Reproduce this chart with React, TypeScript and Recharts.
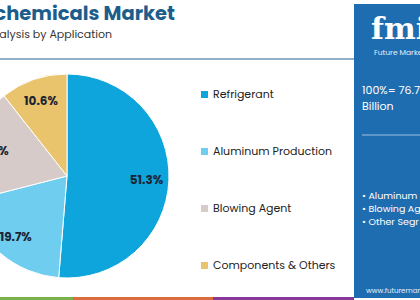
import React from "react";
import { PieChart, Pie, Cell } from "recharts";

const categories = ["Refrigerant", "Aluminum Production", "Blowing Agent", "Components & Others"];
const shares = [51.3, 19.7, 18.4, 10.6];
const colors = ["#0ea5dd", "#6fcdf0", "#d6cbc8", "#e9c46c"];
const titleText = "chemicals Market";
const subtitleText = "alysis by Application";
const panelTotal = ["100%= 76.7", "Billion"];
const panelBullets = ["• Aluminum", "• Blowing Ag", "• Other Segr"];

const data = categories.map((name, i) => ({ name, value: shares[i] }));
const RAD = Math.PI / 180;
const FONT = "Poppins, Inter, sans-serif";

const renderLabel = (props: any) => {
  const { cx, cy, midAngle, outerRadius, value } = props;
  const r = outerRadius * 0.78;
  const x = cx + r * Math.cos(-midAngle * RAD);
  const y = cy + r * Math.sin(-midAngle * RAD);
  return (
    <text x={x} y={y} textAnchor="middle" dominantBaseline="central" fill="#1b2533"
      fontSize={12} fontWeight={700} fontFamily={FONT}>
      {value.toFixed(1)}%
    </text>
  );
};

export default function App() {
  return (
    <div style={{ position: "absolute", left: 0, top: 0, width: 420, height: 300, background: "#fff", overflow: "hidden" }}>
      <svg width={420} height={300} style={{ position: "absolute", left: 0, top: 0 }}>
        <text x={175} y={20} textAnchor="end" fill="#1c5d8c" fontSize={19.5} fontWeight={700}
          fontFamily={FONT}>{titleText}</text>
        <text x={112} y={38} textAnchor="end" fill="#333" fontSize={11}
          fontFamily={FONT}>{subtitleText}</text>
        <line x1={0} y1={59} x2={354} y2={59} stroke="#6b96b6" strokeWidth={1.5} />
        <rect x={0} y={297} width={73} height={3} fill="#78b348" />
        <rect x={73} y={297} width={140} height={3} fill="#de6b3c" />
        <rect x={213} y={297} width={141} height={3} fill="#88379a" />
        <rect x={354} y={4} width={66} height={294} fill="#1f6db1" />
        <text x={371} y={39} fill="#fff" fontSize={30} fontWeight={700}
          fontFamily="Georgia, 'DejaVu Serif', serif">fmi</text>
        <text x={374} y={55} fill="#e6eef7" fontSize={7.5}
          fontFamily={FONT}>Future Market</text>
        <text x={362} y={94} fill="#fff" fontSize={11} fontFamily={FONT}>{panelTotal[0]}</text>
        <text x={362} y={110} fill="#fff" fontSize={11} fontFamily={FONT}>{panelTotal[1]}</text>
        <line x1={362} y1={135} x2={420} y2={135} stroke="#9fc1e0" strokeWidth={1} />
        {panelBullets.map((b, i) => (
          <text key={i} x={362} y={199 + i * 13} fill="#fff" fontSize={9.5}
            fontFamily={FONT}>{b}</text>
        ))}
        <text x={366} y={293} fill="#e6eef7" fontSize={7} fontFamily={FONT}>www.futuremarketinsights.com</text>
      </svg>
      <div style={{ position: "absolute", left: 0, top: 0 }}>
        <PieChart width={200} height={300} margin={{ top: 0, right: 0, bottom: 0, left: 0 }}>
          <Pie data={data} dataKey="value" nameKey="name" cx={67} cy={176} outerRadius={102}
            startAngle={90} endAngle={-270} stroke="#fff" strokeWidth={1}
            label={renderLabel} labelLine={false} isAnimationActive={false}>
            {data.map((d, i) => <Cell key={d.name} fill={colors[i]} />)}
          </Pie>
        </PieChart>
      </div>
      <div style={{ position: "absolute", left: 201, top: 66, fontFamily: FONT }}>
        {categories.map((c, i) => (
          <div key={c} style={{ display: "flex", alignItems: "center", height: 57 }}>
            <span style={{ display: "inline-block", width: 7, height: 7, background: colors[i], marginRight: 5 }} />
            <span style={{ fontSize: 11, color: "#222", whiteSpace: "nowrap" }}>{c}</span>
          </div>
        ))}
      </div>
    </div>
  );
}
